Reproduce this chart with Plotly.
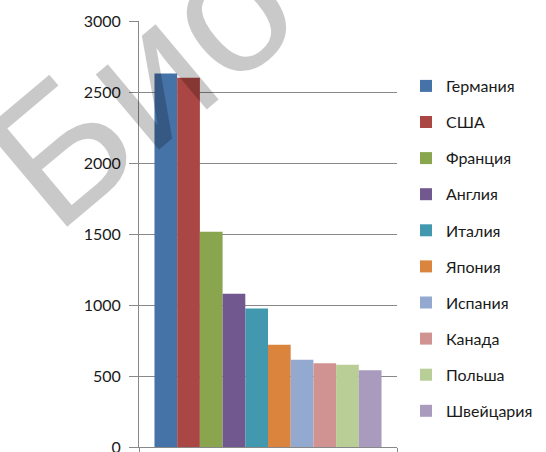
import plotly.graph_objects as go

countries = ["Германия", "США", "Франция", "Англия", "Италия",
             "Япония", "Испания", "Канада", "Польша", "Швейцария"]
values = [2630, 2600, 1515, 1080, 975, 720, 615, 590, 580, 540]
colors = ["#4572A7", "#AA4643", "#89A54E", "#71588F", "#4198AF",
          "#DB843D", "#93A9CF", "#D19392", "#B9CD96", "#A99BBD"]
y_ticks = [0, 500, 1000, 1500, 2000, 2500, 3000]

W, H = 546, 452
L, R, T, B = 139, 397, 21, 447

fig = go.Figure()
for i, (c, v, col) in enumerate(zip(countries, values, colors)):
    fig.add_trace(go.Bar(x=[0], y=[v], name=c, marker=dict(color=col, line=dict(width=0)),
                         legendgroup=str(i)))

def px_x(p):
    return (p - L) / (R - L)

def px_y(p):
    return 1 - (p - T) / (B - T)

fig.add_annotation(text="Био", xref="paper", yref="paper",
                   x=px_x(140), y=px_y(82), xanchor="center", yanchor="middle",
                   showarrow=False, textangle=-40,
                   font=dict(family="Liberation Sans", size=186, color="rgba(0,0,0,0.21)"))

fig.update_layout(
    width=W, height=H,
    margin=dict(l=L, r=W - R, t=T, b=H - B, pad=0),
    paper_bgcolor="white", plot_bgcolor="white",
    barmode="group", bargap=0.12, bargroupgap=0,
    font=dict(family="Lato", size=16, color="#1a1a1a"),
    showlegend=True,
    legend=dict(x=px_x(406), y=px_y(69), xanchor="left", yanchor="top",
                traceorder="grouped", tracegroupgap=12.3,
                font=dict(family="Lato", size=16, color="#1a1a1a"),
                bgcolor="rgba(0,0,0,0)"),
    xaxis=dict(range=[-0.5, 0.5], tickvals=[-0.5, 0.5], showticklabels=False,
               ticks="outside", ticklen=5, tickcolor="#888888", automargin=False,
               showline=True, linecolor="#888888", linewidth=1,
               showgrid=False, zeroline=False, fixedrange=True),
    yaxis=dict(range=[0, 3000], tickvals=y_ticks, ticks="outside", ticklen=9,
               tickcolor="#888888", showline=True, linecolor="#888888", linewidth=1,
               showgrid=True, gridcolor="#888888", gridwidth=1, zeroline=False,
               automargin=False, ticklabeloverflow="allow",
               ticklabelstandoff=5, tickfont=dict(family="Lato", size=16, color="#1a1a1a")),
)

fig.write_html("out.html", config={"displayModeBar": False},
               post_script="document.body.style.margin='0';document.body.style.overflow='hidden';")
